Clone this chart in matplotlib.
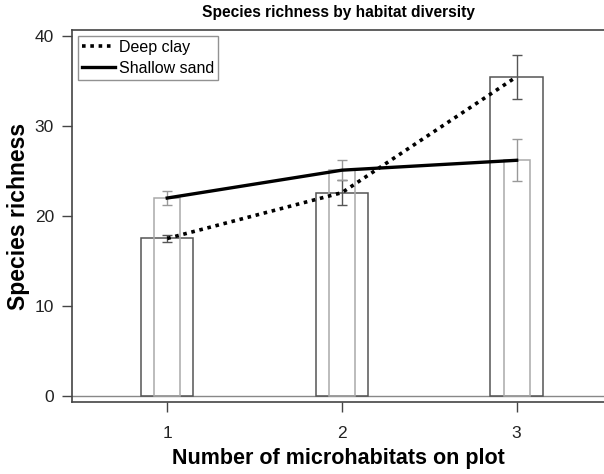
import matplotlib
matplotlib.use("Agg")
import matplotlib.pyplot as plt
import numpy as np

plt.rcParams['font.family'] = ['Liberation Sans', 'DejaVu Sans']

x = [1, 2, 3]
deep_clay = [17.5, 22.6, 35.5]
deep_clay_err = [0.35, 1.4, 2.45]
shallow_sand = [22.0, 25.1, 26.2]
shallow_sand_err = [0.75, 1.1, 2.35]
series_names = ["Deep clay", "Shallow sand"]
title = "Species richness by habitat diversity"
xlabel = "Number of microhabitats on plot"
ylabel = "Species richness"

fig = plt.figure(figsize=(6.04, 4.74), dpi=100)
ax = fig.add_axes([72/604, 1-402/474, 1-72/604, (402-30)/474])

dark = "#555555"
light = "#aaaaaa"

ax.bar(x, deep_clay, width=0.3, facecolor="none", edgecolor=dark, linewidth=1.1, zorder=2)
ax.bar(x, shallow_sand, width=0.15, facecolor="none", edgecolor=light, linewidth=1.1, zorder=2)
ax.errorbar(x, deep_clay, yerr=deep_clay_err, fmt="none", ecolor=dark, elinewidth=1.0,
            capsize=3.5, capthick=1.0, zorder=3)
ax.errorbar(x, shallow_sand, yerr=shallow_sand_err, fmt="none", ecolor="#999999", elinewidth=1.0,
            capsize=3.5, capthick=1.0, zorder=3)
ax.plot(x, deep_clay, linestyle=(0, (1, 1.3)), color="black", linewidth=2.6,
        label=series_names[0], zorder=4)
ax.plot(x, shallow_sand, linestyle="-", color="black", linewidth=2.4,
        label=series_names[1], zorder=4)
ax.axhline(0, color="#888888", linewidth=1.0, zorder=1)

ax.set_xlim(0.455, 3.5)
ax.set_ylim(-0.7, 40.7)
ax.set_xticks(x)
ax.set_yticks([0, 10, 20, 30, 40])
ax.tick_params(axis="both", direction="out", length=7, width=1.0, colors="#444444",
               labelsize=12.5, labelcolor="#222222", pad=6)
ax.tick_params(axis="x", pad=10)
for s in ["left", "bottom", "top"]:
    ax.spines[s].set_color("#444444")
    ax.spines[s].set_linewidth(1.2)
ax.spines["right"].set_visible(False)

ax.set_title(title, fontsize=11.2, fontweight="bold", pad=9)
ax.set_xlabel(xlabel, fontsize=15.5, fontweight="bold", labelpad=5)
ax.set_ylabel(ylabel, fontsize=16.5, fontweight="bold", labelpad=3)

leg = ax.legend(loc="upper left", fontsize=11.5, frameon=True, fancybox=False,
                handlelength=2.1, handletextpad=0.25, borderpad=0.25, labelspacing=0.4,
                borderaxespad=0.35)
leg.get_frame().set_edgecolor("#777777")
leg.get_frame().set_linewidth(1.0)

fig.savefig("out.png", dpi=100)
